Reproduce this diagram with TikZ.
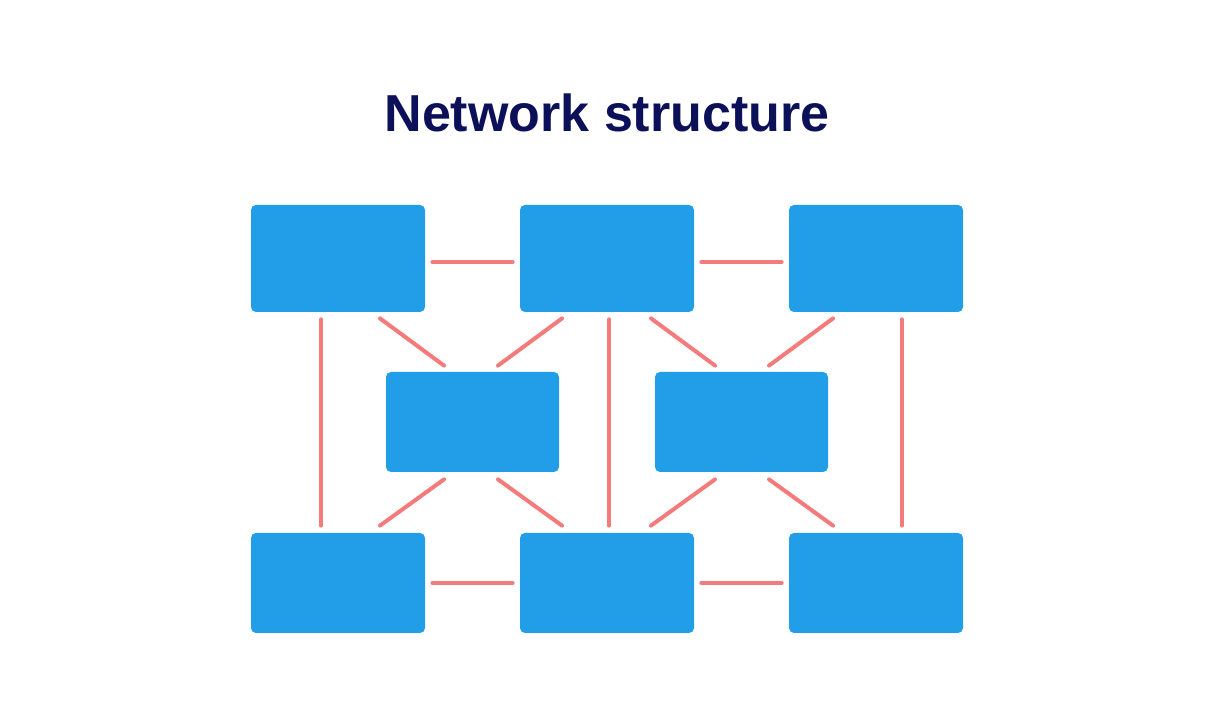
\documentclass[tikz,border=0pt]{standalone}
\usepackage{fontspec}
\setmainfont{Liberation Sans}
\usetikzlibrary{calc}
\definecolor{boxblue}{HTML}{229DE8}
\definecolor{linkred}{HTML}{F47B7B}
\definecolor{titlenavy}{HTML}{0B1059}
\tikzset{
  netbox/.style={fill=boxblue,draw=none,rounded corners=2.5pt,inner sep=0pt,minimum width=87pt,minimum height=50pt},
  link/.style={draw=linkred,line width=2pt,line cap=round}
}
\begin{document}
\begin{tikzpicture}[x=0.5pt,y=0.5pt]
\useasboundingbox (0,0) rectangle (1214,721);
\node[anchor=base,text=titlenavy,font=\bfseries\fontsize{26}{30}\selectfont] (title) at (607,589) {Network structure};
% top row
\node[netbox,minimum height=53.5pt] (a1) at (338,462.5) {};
\node[netbox,minimum height=53.5pt] (a2) at (607,462.5) {};
\node[netbox,minimum height=53.5pt] (a3) at (876,462.5) {};
% middle row
\node[netbox,minimum width=86.5pt] (m1) at (472.5,299) {};
\node[netbox,minimum width=86.5pt] (m2) at (741.5,299) {};
% bottom row
\node[netbox] (b1) at (338,138) {};
\node[netbox] (b2) at (607,138) {};
\node[netbox] (b3) at (876,138) {};
% horizontal links
\draw[link,shorten <=3.5pt,shorten >=3.5pt] ([yshift=-1.75pt]a1.east) -- ([yshift=-1.75pt]a2.west);
\draw[link,shorten <=3.5pt,shorten >=3.5pt] ([yshift=-1.75pt]a2.east) -- ([yshift=-1.75pt]a3.west);
\draw[link,shorten <=3.5pt,shorten >=3.5pt] (b1) -- (b2);
\draw[link,shorten <=3.5pt,shorten >=3.5pt] (b2) -- (b3);
% vertical links
\draw[link,shorten <=3.5pt,shorten >=3.5pt] ([xshift=-8.5pt]a1.south) -- ([xshift=-8.5pt]b1.north);
\draw[link,shorten <=3.5pt,shorten >=3.5pt] ([xshift=1pt]a2.south) -- ([xshift=1pt]b2.north);
\draw[link,shorten <=3.5pt,shorten >=3.5pt] ([xshift=13pt]a3.south) -- ([xshift=13pt]b3.north);
% diagonal links, top
\draw[link] ($(a1.south)+(42,-6)$) -- ($(m1.north)+(-28.5,6)$);
\draw[link] ($(a2.south)+(-45,-6)$) -- ($(m1.north)+(25.5,6)$);
\draw[link] ($(a2.south)+(44,-6)$) -- ($(m2.north)+(-26.5,6)$);
\draw[link] ($(a3.south)+(-43,-6)$) -- ($(m2.north)+(27.5,6)$);
% diagonal links, bottom
\draw[link] ($(m1.south)+(-28.5,-7)$) -- ($(b1.north)+(42,7)$);
\draw[link] ($(m1.south)+(25.5,-7)$) -- ($(b2.north)+(-45,7)$);
\draw[link] ($(m2.south)+(-26.5,-7)$) -- ($(b2.north)+(44,7)$);
\draw[link] ($(m2.south)+(27.5,-7)$) -- ($(b3.north)+(-43,7)$);
\end{tikzpicture}
\end{document}
